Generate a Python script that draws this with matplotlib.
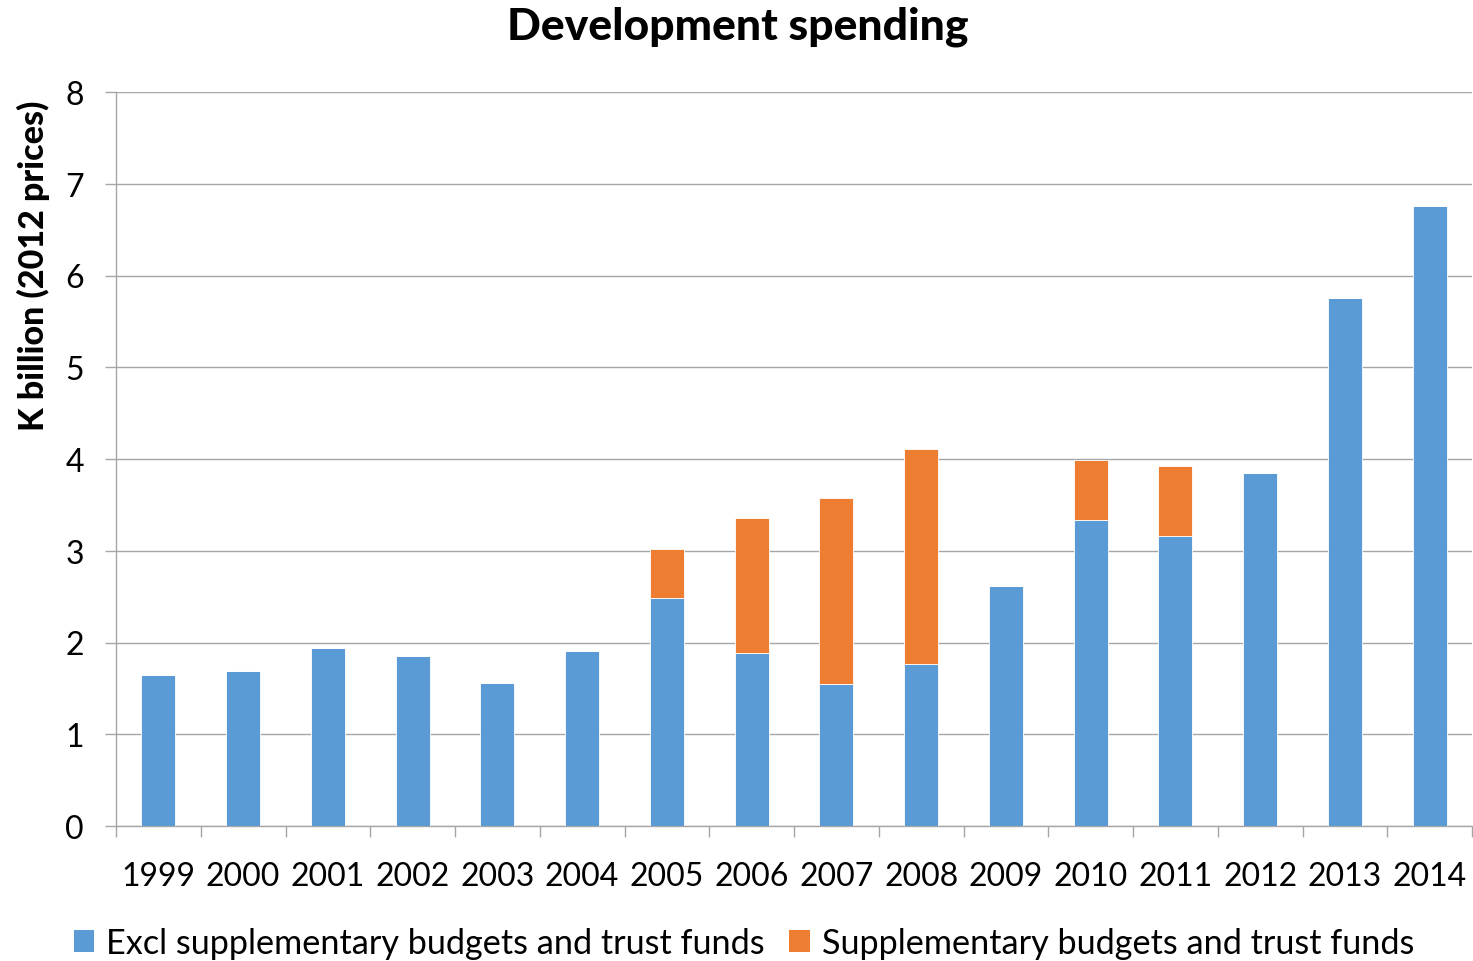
import matplotlib
matplotlib.use("Agg")
import matplotlib.pyplot as plt
import numpy as np
from matplotlib.patches import Patch

plt.rcParams["font.family"] = ["Lato", "DejaVu Sans"]

years = ["1999", "2000", "2001", "2002", "2003", "2004", "2005", "2006",
         "2007", "2008", "2009", "2010", "2011", "2012", "2013", "2014"]
core = [1.65, 1.69, 1.94, 1.85, 1.56, 1.91, 2.49, 1.89,
        1.55, 1.77, 2.62, 3.33, 3.16, 3.85, 5.76, 6.76]
supplementary = [0, 0, 0, 0, 0, 0, 0.53, 1.47,
                 2.03, 2.34, 0, 0.66, 0.76, 0, 0, 0]

BLUE = "#5B9BD5"
ORANGE = "#ED7D31"
GREY = "#A6A6A6"

fig = plt.figure(figsize=(14.73, 9.62), dpi=100)
ax = fig.add_axes([116 / 1473, 135 / 962, 1356 / 1473, 734 / 962])

x = np.arange(len(years))
core = np.array(core)
supplementary = np.array(supplementary)
ax.bar(x, core, width=0.4, color=BLUE, edgecolor="white", linewidth=0.6,
       zorder=3)
ax.bar(x, supplementary, width=0.4, bottom=core, color=ORANGE,
       edgecolor="white", linewidth=0.6, zorder=3)

ax.set_xlim(-0.5, len(years) - 0.5)
ax.set_ylim(0, 8)
ax.set_yticks(range(0, 9))
ax.yaxis.grid(True, color=GREY, linewidth=1.0, zorder=0)
ax.set_axisbelow(True)

# year labels at bar centres, tick marks at category boundaries
ax.set_xticks(x)
ax.set_xticklabels(years)
ax.set_xticks(np.arange(-0.5, len(years)), minor=True)
ax.tick_params(axis="x", which="major", length=0, pad=25, labelsize=23)
ax.tick_params(axis="x", which="minor", length=8, width=1.0, color=GREY)
ax.tick_params(axis="y", length=8, width=1.0, color=GREY, pad=15, labelsize=23)

for side in ("top", "right"):
    ax.spines[side].set_visible(False)
for side in ("left", "bottom"):
    ax.spines[side].set_color(GREY)
    ax.spines[side].set_linewidth(1.0)

ax.set_ylabel("K billion (2012 prices)", fontsize=24.5, fontweight="black")
ax.yaxis.set_label_coords(-0.049, 0.765)

fig.text(0.501, 0.972, "Development spending", ha="center", va="center",
         fontsize=32, fontweight="black")

handles = [Patch(facecolor=BLUE), Patch(facecolor=ORANGE)]
labels = ["Excl supplementary budgets and trust funds",
          "Supplementary budgets and trust funds"]
fig.legend(handles, labels, loc="center", bbox_to_anchor=(0.505, 0.019),
           ncol=2, frameon=False, fontsize=24.7, handlelength=0.6,
           handleheight=0.6, handletextpad=0.35, columnspacing=0.7)

fig.savefig("out.png", dpi=100)
